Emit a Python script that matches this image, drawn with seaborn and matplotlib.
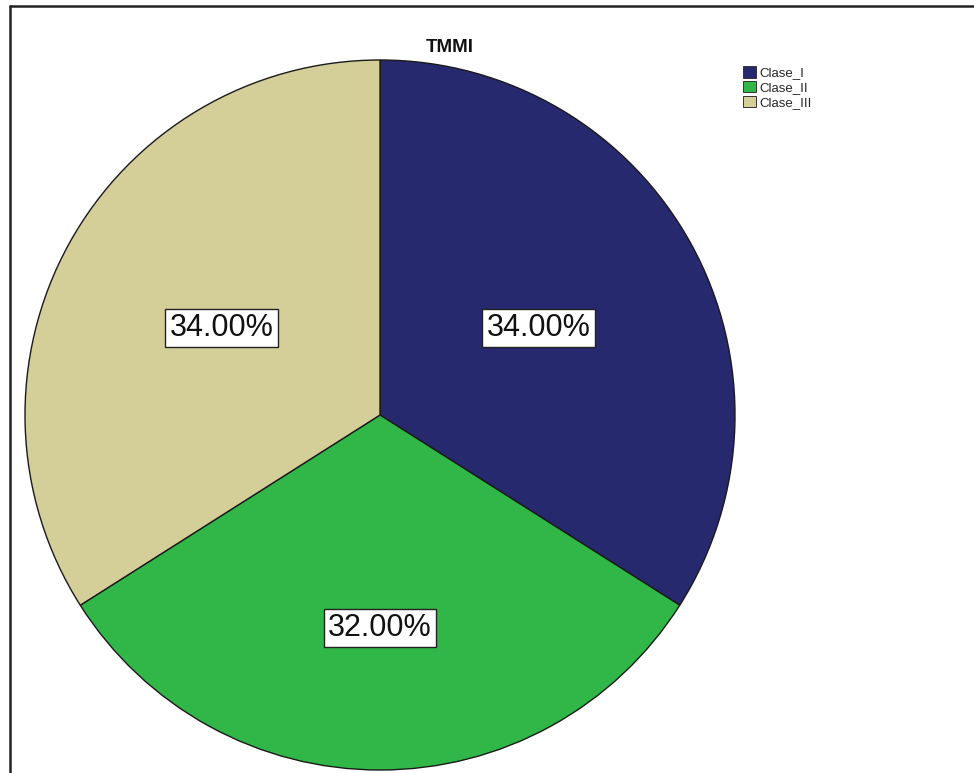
import numpy as np
import matplotlib
matplotlib.use("Agg")
import matplotlib.pyplot as plt
from matplotlib.lines import Line2D
from matplotlib.patches import Patch
import seaborn as sns

# Data
categories = ["Clase_I", "Clase_II", "Clase_III"]
percentages = [34.00, 32.00, 34.00]
slice_colors = ["#27296f", "#30b748", "#d4cf99"]
title = "TMMI"

sns.set_theme(style="white")
plt.rcParams["font.family"] = ["Liberation Sans", "DejaVu Sans"]

W, H, DPI = 974, 773, 100
fig = plt.figure(figsize=(W / DPI, H / DPI), dpi=DPI, facecolor="white")

# Pie axes: centre (380, 415) px, radius 355 px
cx, cy, r = 380, 415, 355
ax = fig.add_axes([(cx - r) / W, (H - cy - r) / H, 2 * r / W, 2 * r / H])
palette = sns.color_palette(slice_colors)

wedges, _ = ax.pie(
    percentages,
    colors=palette,
    startangle=90,
    counterclock=False,
    radius=1.0,
    wedgeprops=dict(edgecolor="#1a1a1a", linewidth=1.0),
)
ax.set_xlim(-1, 1)
ax.set_ylim(-1, 1)
ax.set_aspect("equal")
ax.axis("off")

# Percentage labels in white boxes
label_radius = [0.51, 0.60, 0.51]
for w, pct, lr in zip(wedges, percentages, label_radius):
    mid = np.deg2rad((w.theta1 + w.theta2) / 2)
    ax.text(
        lr * np.cos(mid), lr * np.sin(mid), f"{pct:.2f}%",
        ha="center", va="center", fontsize=22, color="#111111",
        bbox=dict(boxstyle="square,pad=0.14", facecolor="white",
                  edgecolor="#222222", linewidth=1.0),
    )

fig.text(450 / W, 1 - 47 / H, title, ha="center", va="center",
         fontsize=13.5, fontweight="bold", color="#111111")

handles = [Patch(facecolor=c, edgecolor="#333333", linewidth=0.7) for c in palette]
fig.legend(
    handles, categories, loc="upper left",
    bbox_to_anchor=(734 / W, 1 - 57 / H), frameon=False,
    fontsize=9.5, handlelength=0.95, handleheight=0.95,
    handletextpad=0.3, labelspacing=0.12, borderpad=0.2,
)

# Frame lines along the top and left
fig.add_artist(Line2D([10 / W, 1], [1 - 6 / H, 1 - 6 / H],
                      transform=fig.transFigure, color="#222222", linewidth=1.8))
fig.add_artist(Line2D([10 / W, 10 / W], [0, 1 - 6 / H],
                      transform=fig.transFigure, color="#222222", linewidth=1.8))

fig.savefig("out.png", dpi=DPI, facecolor="white")
